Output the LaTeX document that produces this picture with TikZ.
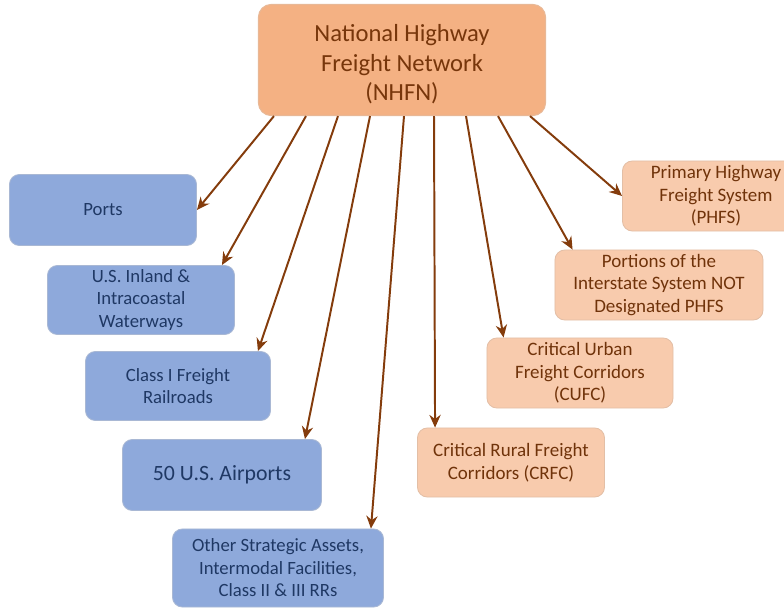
\documentclass[tikz,border=0pt]{standalone}
\usepackage{fontspec}
\setmainfont{Carlito}
\usepackage{tikz}
\usetikzlibrary{arrows.meta,positioning,calc}
\definecolor{hubfill}{HTML}{F4B183}
\definecolor{hubline}{HTML}{E8B896}
\definecolor{rust}{HTML}{843C0C}
\definecolor{peach}{HTML}{F8CBAD}
\definecolor{peachline}{HTML}{E3BFA6}
\definecolor{steel}{HTML}{8EA9DB}
\definecolor{steelline}{HTML}{A9B8D4}
\definecolor{navy}{HTML}{1F3864}
\tikzset{
  hubbox/.style={
    draw=hubline, fill=hubfill, line width=0.8pt, rounded corners=9pt,
    align=center, inner sep=2pt, text=rust!90!black,
    font=\fontsize{17.5}{21}\selectfont
  },
  assetbox/.style={
    draw=steelline, fill=steel, line width=0.6pt, rounded corners=7pt,
    align=center, inner sep=2pt, text=navy,
    font=\fontsize{13.3}{16}\selectfont
  },
  routebox/.style={
    draw=peachline, fill=peach, line width=0.6pt, rounded corners=7pt,
    align=center, inner sep=2pt, text=rust!85!black,
    font=\fontsize{13.5}{16}\selectfont
  },
  link/.style={draw=rust, line width=1.4pt, -{Stealth[length=9pt,width=8pt]}}
}

\begin{document}
\begin{tikzpicture}[x=0.025cm,y=-0.025cm]
  \useasboundingbox (0,0) rectangle (784,607);

  \node[hubbox,minimum width=7.175cm,minimum height=2.775cm] (hub) at (402,60)
    {\raisebox{-3pt}[\height][\depth]{\parbox{6cm}{\centering National Highway\\Freight Network\\(NHFN)}}};

  \node[assetbox,minimum width=4.675cm,minimum height=1.775cm] (ports) at (103,210) {Ports};
  \node[assetbox,minimum width=4.675cm,minimum height=1.725cm] (inland) at (141,300)
    {U.S. Inland \&\\Intracoastal\\Waterways};
  \node[assetbox,minimum width=4.625cm,minimum height=1.725cm] (railroads) at (178,386)
    {Class I Freight\\Railroads};
  \node[assetbox,minimum width=4.975cm,minimum height=1.775cm,
        font=\fontsize{15.5}{18}\selectfont] (airports) at (222,475) {50 U.S. Airports};
  \node[assetbox,minimum width=5.275cm,minimum height=1.95cm] (other) at (278,568)
    {Other Strategic Assets,\\Intermodal Facilities,\\Class II \& III RRs};

  \node[routebox,minimum width=4.675cm,minimum height=1.75cm] (phfs) at (716,196)
    {Primary Highway\\Freight System\\(PHFS)};
  \node[routebox,minimum width=5.2cm,minimum height=1.75cm] (portions) at (659,285)
    {Portions of the\\Interstate System NOT\\Designated PHFS};
  \node[routebox,minimum width=4.65cm,minimum height=1.75cm] (cufc) at (580,373)
    {Critical Urban\\Freight Corridors\\(CUFC)};
  \node[routebox,minimum width=4.675cm,minimum height=1.725cm] (crfc) at (511,462.5)
    {Critical Rural Freight\\Corridors (CRFC)};

  \draw[link] ([xshift=-3.2cm]hub.south) -- (ports.east);
  \draw[link] ([xshift=-2.4cm]hub.south) -- ([xshift=-0.325cm]inland.north east);
  \draw[link] ([xshift=-1.6cm]hub.south) -- ([xshift=-0.325cm]railroads.north east);
  \draw[link] ([xshift=-0.8cm]hub.south) -- ([xshift=-0.425cm]airports.north east);
  \draw[link] ([xshift=0.05cm]hub.south) -- ([xshift=-0.325cm]other.north east);
  \draw[link] ([xshift=0.8cm]hub.south) -- ([xshift=0.45cm]crfc.north west);
  \draw[link] ([xshift=1.6cm]hub.south) -- ([xshift=0.425cm]cufc.north west);
  \draw[link] ([xshift=2.4cm]hub.south) -- ([xshift=0.45cm]portions.north west);
  \draw[link] ([xshift=3.2cm]hub.south) -- (phfs.west);
\end{tikzpicture}
\end{document}
